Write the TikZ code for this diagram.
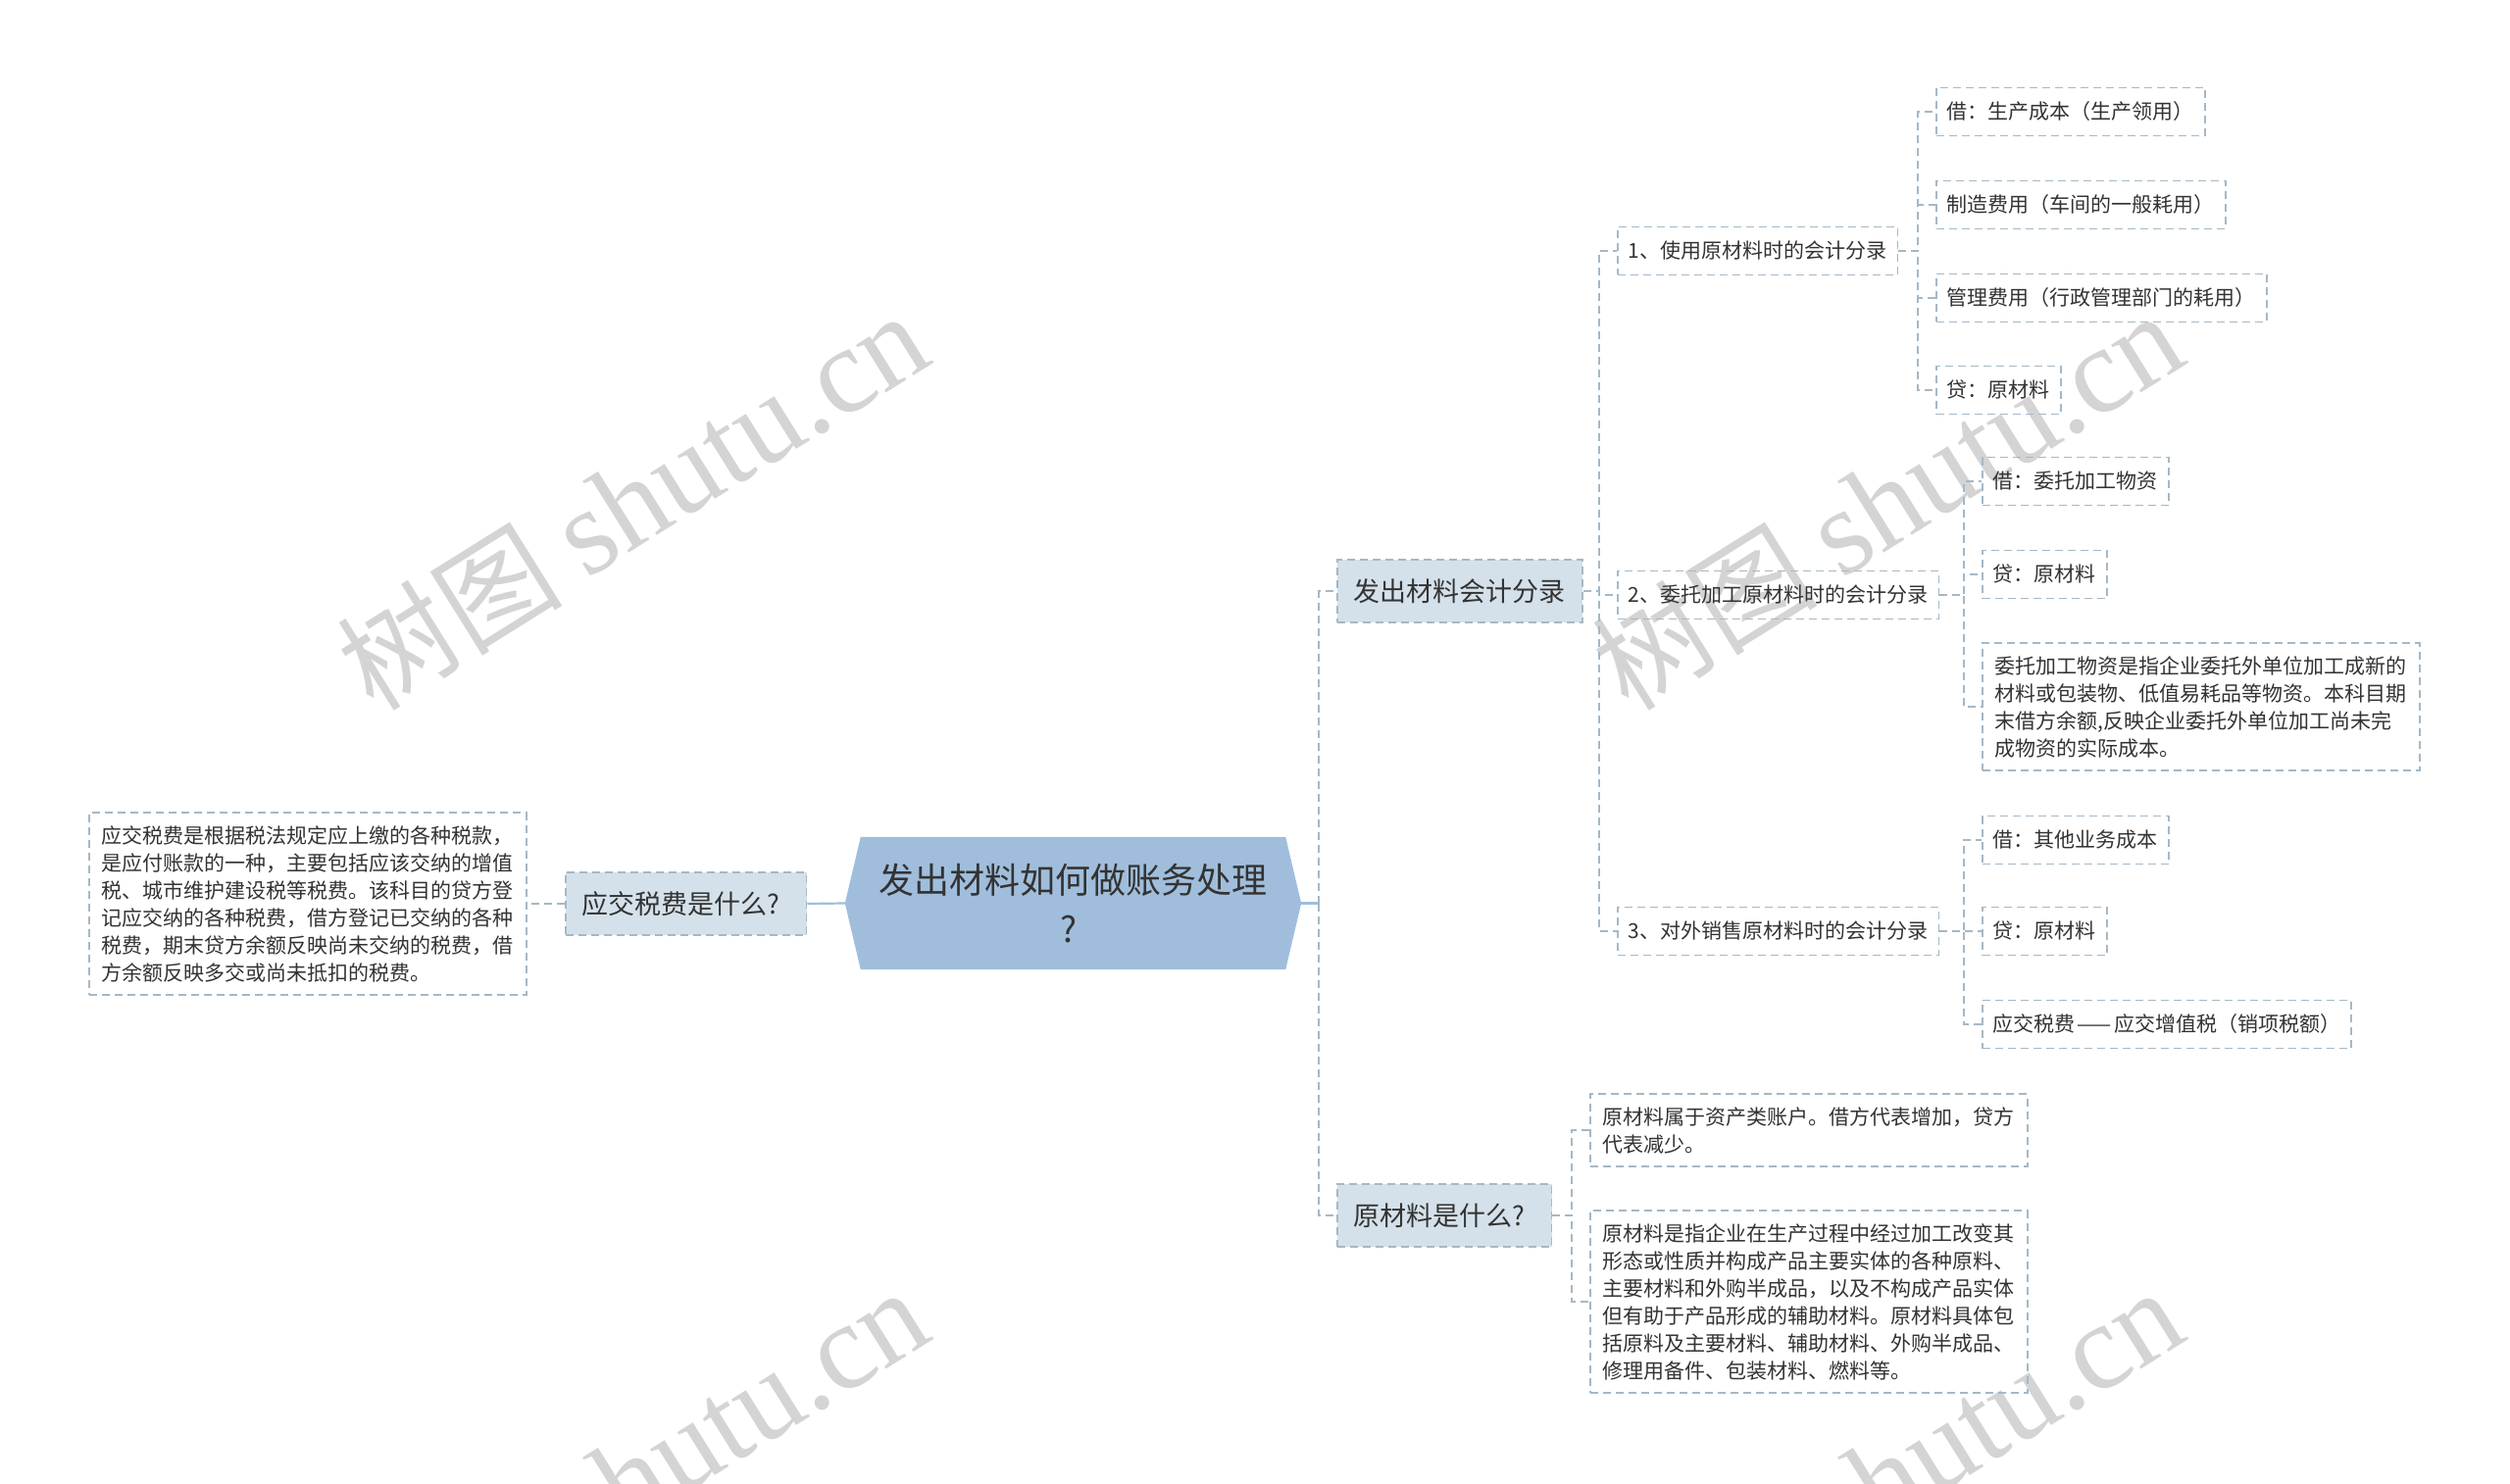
\documentclass[tikz,border=0pt]{standalone}
\usepackage{fontspec}
\setmainfont{Noto Sans CJK SC}
\newfontfamily\wmlat{Liberation Serif}
\newfontfamily\wmcjk{Noto Sans CJK SC}
\usetikzlibrary{calc,backgrounds}
\definecolor{rootfill}{HTML}{A0BEDC}
\definecolor{mainfill}{HTML}{D5E1EA}
\definecolor{bord}{HTML}{A5B8C6}
\definecolor{txt}{HTML}{333333}
\definecolor{wm}{HTML}{D4D4D4}
\begin{document}
\begin{tikzpicture}[x=1pt,y=-1pt,
 dsh/.style={dash pattern=on 8pt off 5pt},
 conn/.style={draw=bord,line width=1.6pt,dsh},
 rootconn/.style={draw=rootfill,line width=2.2pt},
 mainnode/.style={draw=bord,fill=mainfill,line width=1.6pt,dsh,anchor=west,minimum height=64pt,inner xsep=17pt,font=\fontsize{27}{32}\selectfont,text=txt},
 subnode/.style={draw=bord,line width=1.6pt,dsh,anchor=west,minimum height=49pt,inner xsep=11pt,font=\fontsize{21}{28}\selectfont,text=txt},
 textbox/.style={subnode,align=left,inner ysep=13pt,inner xsep=13pt,minimum height=0pt},
 wmark/.style={text=wm,rotate=32,inner sep=0pt}
]
\useasboundingbox (0,0) rectangle (2560,1514);

% root
\node[minimum width=433pt,minimum height=135pt,align=center,font=\fontsize{36}{50}\selectfont,text=txt,inner sep=0pt] (root) at (1094.5,921.5) {发出材料如何做账务处理\\?\kern8pt};

% level 1
\node[mainnode] (L) at (576,922) {应交税费是什么?\kern10pt};
\node[textbox] (Ltxt) at (90,922) {应交税费是根据税法规定应上缴的各种税款，\\是应付账款的一种，主要包括应该交纳的增值\\税、城市维护建设税等税费。该科目的贷方登\\记应交纳的各种税费，借方登记已交纳的各种\\税费，期末贷方余额反映尚未交纳的税费，借\\方余额反映多交或尚未抵扣的税费。};
\node[mainnode] (M1) at (1363,603) {发出材料会计分录};
\node[mainnode] (M2) at (1363,1240) {原材料是什么?\kern10pt};

% level 2
\node[subnode] (n1) at (1649,256) {1、使用原材料时的会计分录};
\node[subnode] (n2) at (1649,607) {2、委托加工原材料时的会计分录};
\node[subnode] (n3) at (1649,950) {3、对外销售原材料时的会计分录};

% level 3
\node[subnode] (a1) at (1974,114) {借：生产成本（生产领用）};
\node[subnode] (a2) at (1974,209) {制造费用（车间的一般耗用）};
\node[subnode] (a3) at (1974,304) {管理费用（行政管理部门的耗用）};
\node[subnode] (a4) at (1974,398) {贷：原材料};
\node[subnode] (b1) at (2021,491) {借：委托加工物资};
\node[subnode] (b2) at (2021,586) {贷：原材料};
\node[textbox] (b3) at (2021,721) {委托加工物资是指企业委托外单位加工成新的\\材料或包装物、低值易耗品等物资。本科目期\\末借方余额,反映企业委托外单位加工尚未完\\成物资的实际成本。};
\node[subnode] (c1) at (2021,857) {借：其他业务成本};
\node[subnode] (c2) at (2021,950) {贷：原材料};
\node[subnode] (c3) at (2021,1045) {应交税费{\kern2pt}——{\kern2pt}应交增值税（销项税额）};
\node[textbox] (d1) at (1621,1153) {原材料属于资产类账户。借方代表增加，贷方\\代表减少。};
\node[textbox] (d2) at (1621,1328) {原材料是指企业在生产过程中经过加工改变其\\形态或性质并构成产品主要实体的各种原料、\\主要材料和外购半成品，以及不构成产品实体\\但有助于产品形成的辅助材料。原材料具体包\\括原料及主要材料、辅助材料、外购半成品、\\修理用备件、包装材料、燃料等。};

% background: white, watermarks, root hexagon
\begin{scope}[on background layer]
\fill[white] (0,0) rectangle (2560,1514);
\begin{scope}
\clip (0,0) rectangle (2560,1514);
\node[wmark] (wm1) at (645,511) {\wmcjk\fontsize{115}{115}\selectfont 树图 \wmlat\fontsize{125}{125}\selectfont shutu.cn};
\node[wmark] (wm2) at (1925,511) {\wmcjk\fontsize{115}{115}\selectfont 树图 \wmlat\fontsize{125}{125}\selectfont shutu.cn};
\node[wmark] (wm3) at (645,1507) {\wmcjk\fontsize{115}{115}\selectfont 树图 \wmlat\fontsize{125}{125}\selectfont shutu.cn};
\node[wmark] (wm4) at (1925,1507) {\wmcjk\fontsize{115}{115}\selectfont 树图 \wmlat\fontsize{125}{125}\selectfont shutu.cn};
\end{scope}
\fill[rootfill] (root.north west) -- (root.north east) -- ($(root.east)+(16,0)$) -- (root.south east) -- (root.south west) -- ($(root.west)+(-16,0)$) -- cycle;
\end{scope}

% bus coordinates
\coordinate (bus0) at (1345,921.5);
\coordinate (busM1) at (1631,0);
\coordinate (busM2) at (1603,0);
\coordinate (busn1) at (1956,0);
\coordinate (busn2) at (2003,0);
\coordinate (busn3) at (2003,0);

% connectors
\draw[rootconn] ($(root.west)+(-16,0)$) -- (L.east);
\draw[conn] (L.west) -- (Ltxt.east);
\draw[rootconn] ($(root.east)+(16,0)$) -- (bus0);
\draw[conn] (bus0) |- (M1.west);
\draw[conn] (bus0) |- (M2.west);

\foreach \c in {n1,n2,n3}{
  \draw[conn] (M1.east) -- (M1.east -| busM1) |- (\c.west);
}
\foreach \c in {d1,d2}{
  \draw[conn] (M2.east) -- (M2.east -| busM2) |- (\c.west);
}
\foreach \c in {a1,a2,a3,a4}{
  \draw[conn] (n1.east) -- (n1.east -| busn1) |- (\c.west);
}
\foreach \c in {b1,b2,b3}{
  \draw[conn] (n2.east) -- (n2.east -| busn2) |- (\c.west);
}
\foreach \c in {c1,c2,c3}{
  \draw[conn] (n3.east) -- (n3.east -| busn3) |- (\c.west);
}
\end{tikzpicture}
\end{document}
